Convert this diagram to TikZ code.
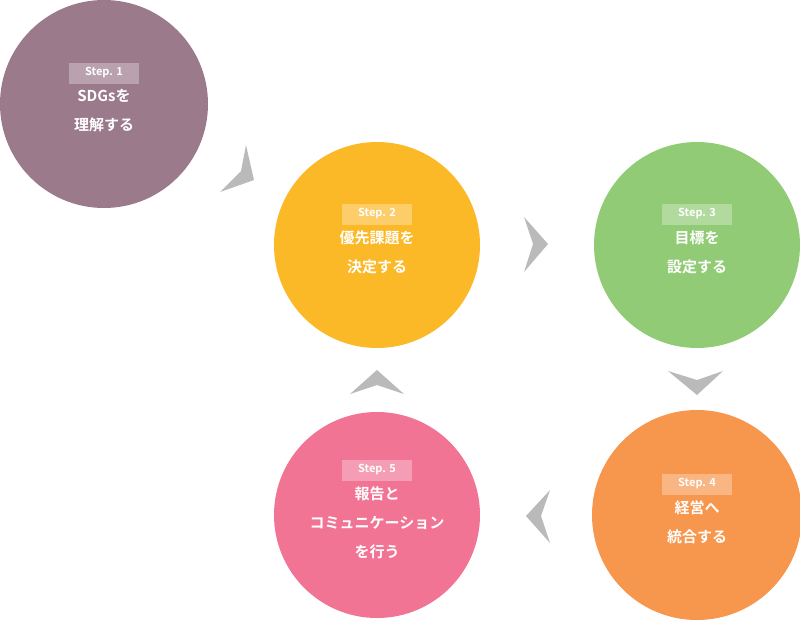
\documentclass[tikz,border=0pt]{standalone}
\usepackage{fontspec}
\setmainfont{Noto Sans CJK JP}[BoldFont={Noto Sans CJK JP Bold}]
\begin{document}
\begin{tikzpicture}[x=1pt,y=-1pt,
  stepc/.style={circle,minimum size=#1,inner sep=0pt},
  tag/.style={fill=white,fill opacity=0.3,text opacity=1,text=white,font=\bfseries\fontsize{11}{12}\selectfont,minimum width=70,minimum height=21,inner sep=0pt},
  body/.style={text=white,font=\bfseries\fontsize{15}{29}\selectfont,align=center},
  chev/.style={fill=black!27}]
\useasboundingbox (0,0) rectangle (800,622);
\definecolor{c1}{HTML}{9B7A8C}\definecolor{c2}{HTML}{FBB827}\definecolor{c3}{HTML}{92CB76}
\definecolor{c4}{HTML}{F7964D}\definecolor{c5}{HTML}{F27494}
\node[stepc=208,fill=c1] (s1) at (104,104) {};
\node[stepc=206,fill=c2] (s2) at (377,245) {};
\node[stepc=206,fill=c3] (s3) at (697,245) {};
\node[stepc=210,fill=c4] (s4) at (697,515) {};
\node[stepc=206,fill=c5] (s5) at (377,515) {};
\node[tag] (t1) at (104,73) {Step. 1};
\node[body,anchor=north] (b1) at (104,86) {SDGsを\\理解する};
\node[tag] (t2) at (377,214) {Step. 2};
\node[body,anchor=north] (b2) at (377,227) {優先課題を\\決定する};
\node[tag] (t3) at (697,214) {Step. 3};
\node[body,anchor=north] (b3) at (697,227) {目標を\\設定する};
\node[tag] (t4) at (697,484) {Step. 4};
\node[body,anchor=north] (b4) at (697,497) {経営へ\\統合する};
\node[tag] (t5) at (377,470) {Step. 5};
\node[body,anchor=north] (b5) at (377,483) {報告と\\コミュニケーション\\を行う};
\fill[chev] (246,145) -- (254,180) -- (220,192) -- (241,171) -- cycle;
\fill[chev] (524,217) -- (548,244) -- (524,272) -- (533,244) -- cycle;
\fill[chev] (668,371) -- (697,395) -- (723,371) -- (697,380) -- cycle;
\fill[chev] (550,490) -- (526,516) -- (550,543) -- (541,516) -- cycle;
\fill[chev] (350,394) -- (377,370) -- (404,394) -- (377,385) -- cycle;
\end{tikzpicture}
\end{document}
